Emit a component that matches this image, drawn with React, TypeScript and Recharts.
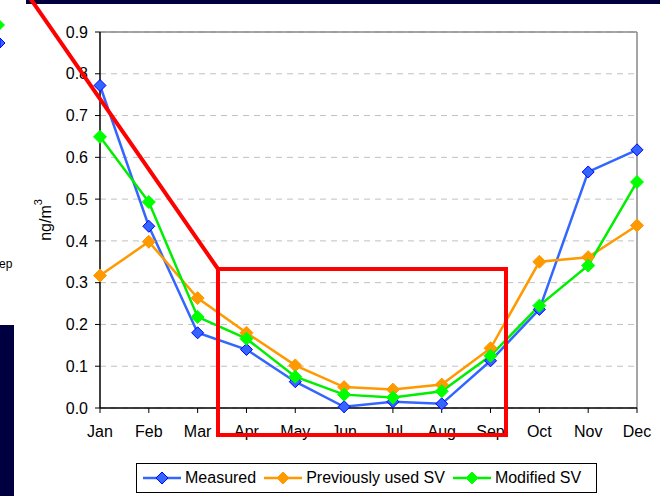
import React from 'react';
import { LineChart, Line, XAxis, YAxis, CartesianGrid, Legend, ReferenceLine } from 'recharts';

const months = ['Jan', 'Feb', 'Mar', 'Apr', 'May', 'Jun', 'Jul', 'Aug', 'Sep', 'Oct', 'Nov', 'Dec'];
const measured = [0.772, 0.435, 0.18, 0.14, 0.063, 0.003, 0.015, 0.01, 0.113, 0.236, 0.565, 0.618];
const previousSV = [0.317, 0.398, 0.263, 0.18, 0.102, 0.05, 0.044, 0.056, 0.143, 0.35, 0.361, 0.437];
const modifiedSV = [0.649, 0.493, 0.218, 0.166, 0.075, 0.032, 0.025, 0.04, 0.125, 0.245, 0.341, 0.541];
const yTicks = [0, 0.1, 0.2, 0.3, 0.4, 0.5, 0.6, 0.7, 0.8, 0.9];
const seriesNames = ['Measured', 'Previously used SV', 'Modified SV'];
const seriesKeys = ['measured', 'previous', 'modified'];
const seriesLine = ['#3366FF', '#FF9900', '#00EE00'];
const seriesFill = ['#3366FF', '#FF9900', '#00FF00'];
const seriesEdge = ['#0000FF', '#FF9900', '#00FF00'];

const data = months.map((m, i) => ({
  month: m,
  measured: measured[i],
  previous: previousSV[i],
  modified: modifiedSV[i],
}));

const FONT = 'Arial, "Liberation Sans", sans-serif';

const makeDiamond = (fill: string, stroke: string, r: number) => (props: any) => {
  const { cx, cy, index } = props;
  if (cx == null || cy == null) return <g key={index} />;
  return (
    <path
      key={index}
      d={`M${cx},${cy - r}L${cx + r},${cy}L${cx},${cy + r}L${cx - r},${cy}Z`}
      fill={fill}
      stroke={stroke}
      strokeWidth={1}
    />
  );
};

const LegendContent = () => (
  <div
    style={{
      boxSizing: 'border-box',
      width: 461,
      height: 30,
      border: '1px solid #000',
      background: '#fff',
      display: 'flex',
      alignItems: 'center',
      paddingLeft: 5,
      fontFamily: FONT,
      fontSize: 16,
      color: '#000',
      whiteSpace: 'nowrap',
    }}
  >
    {seriesNames.map((n, i) => (
      <div key={n} style={{ display: 'flex', alignItems: 'center', marginRight: 7 }}>
        <svg width={40} height={14} style={{ marginRight: 3 }}>
          <line x1={1} y1={7} x2={39} y2={7} stroke={seriesLine[i]} strokeWidth={2.5} />
          <path d="M20,1L26,7L20,13L14,7Z" fill={seriesFill[i]} stroke={seriesEdge[i]} strokeWidth={1} />
        </svg>
        <span>{n}</span>
      </div>
    ))}
  </div>
);

const YLabel = (props: any) => {
  const vb = props.viewBox || { x: 40, y: 32, width: 60, height: 376 };
  const x = vb.x + 5;
  const y = vb.y + vb.height / 2;
  return (
    <text
      x={x}
      y={y}
      transform={`rotate(-90, ${x}, ${y})`}
      textAnchor="middle"
      dominantBaseline="central"
      fontFamily={FONT}
      fontSize={16}
      fill="#000"
    >
      ng/m<tspan dy={-7} fontSize={11}>3</tspan>
    </text>
  );
};

export default function App() {
  return (
    <div style={{ position: 'absolute', left: 0, top: 0, width: 660, height: 496, background: '#fff', overflow: 'hidden' }}>
      <LineChart
        width={660}
        height={496}
        data={data}
        margin={{ top: 32, right: 23, left: 40, bottom: 58 }}
      >
        <CartesianGrid vertical={false} stroke="#c0c0c0" strokeDasharray="6 5" />
        <XAxis
          dataKey="month"
          height={30}
          tickSize={5}
          tickMargin={13}
          axisLine={{ stroke: '#000', strokeWidth: 1.5 }}
          tickLine={{ stroke: '#000' }}
          tick={{ fill: '#000', fontSize: 16, fontFamily: FONT }}
          interval={0}
        />
        <YAxis
          width={60}
          domain={[0, 0.9]}
          ticks={yTicks}
          tickFormatter={(v: number) => v.toFixed(1)}
          tickSize={5}
          tickMargin={7}
          axisLine={{ stroke: '#000', strokeWidth: 1.5 }}
          tickLine={{ stroke: '#000' }}
          tick={{ fill: '#000', fontSize: 16, fontFamily: FONT }}
          label={<YLabel />}
        />
        <ReferenceLine y={0.9} stroke="#888" strokeWidth={1.5} />
        <ReferenceLine x="Dec" stroke="#888" strokeWidth={1.5} />
        {seriesKeys.map((k, i) => (
          <Line
            key={k}
            type="linear"
            dataKey={k}
            name={seriesNames[i]}
            stroke={seriesLine[i]}
            strokeWidth={2.5}
            dot={makeDiamond(seriesFill[i], seriesEdge[i], i === 0 ? 6 : 6.5)}
            activeDot={false}
            isAnimationActive={false}
          />
        ))}
        <Legend
          layout="horizontal"
          verticalAlign="middle"
          align="center"
          wrapperStyle={{ left: 136, top: 463, width: 461, height: 30 }}
          content={<LegendContent />}
        />
      </LineChart>
      <svg
        width={660}
        height={496}
        style={{ position: 'absolute', left: 0, top: 0, pointerEvents: 'none' }}
      >
        <rect x={26} y={0} width={634} height={4} fill="#000040" />
        <rect x={0} y={325} width={14} height={171} fill="#000040" />
        <path d="M0,20L5,25L0,30Z" fill="#00FF00" />
        <path d="M0,38L5,43L0,48Z" fill="#3366FF" stroke="#0000FF" strokeWidth={1} />
        <text x={-1} y={268} fontFamily={FONT} fontSize={12} fill="#000">ep</text>
        <polyline
          points="30,-2 218,269 218,435 506,435 506,269 218,269"
          fill="none"
          stroke="#FF0000"
          strokeWidth={4}
          strokeLinejoin="miter"
        />
      </svg>
    </div>
  );
}
